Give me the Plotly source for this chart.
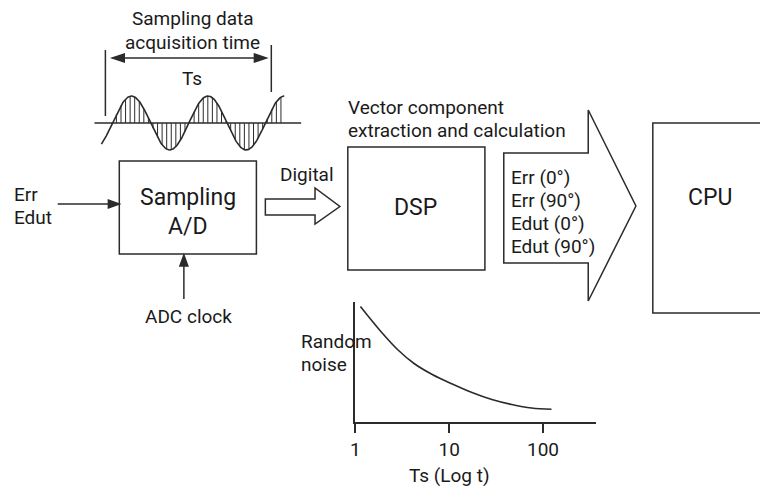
import numpy as np
import plotly.graph_objects as go

W, H = 768, 488
OFF = 8  # page offset of the figure inside the browser body

# ---------------- text content ----------------
title_lines = ["Sampling data", "acquisition time"]
ts_label = "Ts"
input_labels = ["Err", "Edut"]
adc_label = "ADC clock"
ad_labels = ["Sampling", "A/D"]
digital_label = "Digital"
dsp_label = "DSP"
vector_lines = ["Vector component", "extraction and calculation"]
output_labels = ["Err (0°)", "Err (90°)", "Edut (0°)", "Edut (90°)"]
cpu_label = "CPU"
noise_labels = ["Random", "noise"]
noise_xtitle = "Ts (Log t)"

# ---------------- inset data: random noise vs Ts ----------------
noise_t = [1.135, 1.875, 2.82, 4.23, 6.61, 10.8, 17.5, 28.5, 46.4, 75.5, 123]
noise_level = [115, 90, 72, 58, 47, 37.5, 29, 22, 17, 13.5, 12.2]
tick_vals = [1, 10, 100]
tick_text = ["1", "10", "100"]

# ---------------- schematic sampled waveform ----------------
wave_period = 77
wave_amp = 27

LINE = "#2b2b2b"
TXT = "#1a1a1a"
FONT = "Roboto"
SMALL = 19
BIG = 23

fig = go.Figure()

# sine wave (schematic, page pixel coordinates)
base_y = 123
zero_x = 108
wx = np.linspace(97, 281, 300)
wy = base_y - wave_amp * np.sin(2 * np.pi * (wx - zero_x) / wave_period)
fig.add_trace(go.Scatter(x=wx, y=wy, mode="lines", line=dict(color=LINE, width=1.6),
                         hoverinfo="skip", showlegend=False))

# hatching
hx, hy = [], []
for xv in np.arange(107.5, 279, 4.6):
    yv = base_y - wave_amp * np.sin(2 * np.pi * (xv - zero_x) / wave_period)
    hx += [xv, xv, None]
    hy += [base_y, yv, None]
fig.add_trace(go.Scatter(x=hx, y=hy, mode="lines", line=dict(color=LINE, width=1),
                         hoverinfo="skip", showlegend=False))

# inset curve
fig.add_trace(go.Scatter(x=noise_t, y=noise_level, mode="lines", xaxis="x2", yaxis="y2",
                         line=dict(color=LINE, width=1.6, shape="spline", smoothing=1.0),
                         hoverinfo="skip", showlegend=False))

shapes = []


def line(x0, y0, x1, y1, w=1.5):
    shapes.append(dict(type="line", x0=x0, y0=y0, x1=x1, y1=y1, xref="x", yref="y",
                       line=dict(color=LINE, width=w)))


def rect(x0, y0, x1, y1):
    shapes.append(dict(type="rect", x0=x0, y0=y0, x1=x1, y1=y1, xref="x", yref="y",
                       line=dict(color=LINE, width=1.5), fillcolor="rgba(0,0,0,0)"))


def path(pts, fill=None):
    d = "M " + " L ".join(f"{a},{b}" for a, b in pts) + " Z"
    shapes.append(dict(type="path", path=d, xref="x", yref="y",
                       line=dict(color=LINE, width=1.5),
                       fillcolor=fill if fill else "rgba(0,0,0,0)"))


def head(tx, ty, dx, dy, L=12, hw=4):
    bx, by = tx - dx * L, ty - dy * L
    px, py = -dy * hw, dx * hw
    path([(tx, ty), (bx + px, by + py), (bx - px, by - py)], fill=LINE)


# Ts bracket
line(101, 50, 101, 116)
line(268, 45, 268, 92)
line(112, 58, 259, 58)
head(108, 58, -1, 0)
head(263, 58, 1, 0)
# waveform baseline
line(90, base_y, 298, base_y, 1.4)

# Sampling A/D
rect(115, 161, 253, 254)
line(53, 204, 106, 204)
head(115, 204, 1, 0, L=11, hw=4)
line(180, 299, 180, 264)
head(180, 255, 0, -1, L=11, hw=4)

# Digital hollow arrow
path([(262, 199), (312, 199), (312, 188), (337, 206.5), (312, 224), (312, 215), (262, 215)])

# DSP
rect(345, 147, 483, 270)

# big output arrow
path([(502, 153), (587, 153), (587, 110), (635, 206), (587, 301), (587, 263), (502, 263)])

# CPU
rect(652, 123, 780, 313)

annotations = []


def text(s, x, y, size=SMALL, xanchor="center"):
    annotations.append(dict(text=s, x=x, y=y, xref="x", yref="y", showarrow=False,
                            xanchor=xanchor, yanchor="middle", borderpad=0,
                            font=dict(family=FONT, size=size, color=TXT)))


text(title_lines[0], 189, 18.5)
text(title_lines[1], 189, 42)
text(ts_label, 188, 78)
text(input_labels[0], 8, 194, xanchor="left")
text(input_labels[1], 8, 217, xanchor="left")
text(ad_labels[0], 184, 197, size=BIG)
text(ad_labels[1], 184, 226, size=BIG)
text(adc_label, 185, 316)
text(digital_label, 304, 174)
text(vector_lines[0], 344, 107, xanchor="left")
text(vector_lines[1], 344, 130, xanchor="left")
text(dsp_label, 413, 207, size=BIG)
for i, s in enumerate(output_labels):
    text(s, 508, 177 + i * 23.3, xanchor="left")
text(cpu_label, 710, 197, size=BIG)
text(noise_labels[0], 297, 341, xanchor="left")
text(noise_labels[1], 297, 364, xanchor="left")
text(noise_xtitle, 447, 475)

# inset axes placed in page pixels: x 352.5..595, y 302..421.5
ix0, ix1, iy0, iy1 = 352.5, 595, 302, 421.5
decades = (ix1 - ix0) / 94.5

fig.update_layout(
    width=W, height=H, autosize=False,
    margin=dict(l=0, r=0, t=0, b=0),
    paper_bgcolor="white", plot_bgcolor="rgba(0,0,0,0)",
    shapes=shapes, annotations=annotations,
    xaxis=dict(range=[OFF, W + OFF], visible=False, domain=[0, 1], fixedrange=True),
    yaxis=dict(range=[H + OFF, OFF], visible=False, domain=[0, 1], fixedrange=True),
    xaxis2=dict(type="log", range=[0, decades],
                domain=[(ix0 - OFF) / W, (ix1 - OFF) / W],
                anchor="y2", showline=True, linecolor=LINE, linewidth=1.5,
                ticks="outside", ticklen=10, tickwidth=1.5, tickcolor=LINE,
                tickvals=tick_vals, ticktext=tick_text, showgrid=False, zeroline=False,
                tickfont=dict(family=FONT, size=SMALL, color=TXT)),
    yaxis2=dict(range=[0, iy1 - iy0],
                domain=[(H - (iy1 - OFF)) / H, (H - (iy0 - OFF)) / H], anchor="x2",
                showline=True, linecolor=LINE, linewidth=1.5, ticks="",
                showticklabels=False, showgrid=False, zeroline=False),
    showlegend=False,
)

fig.write_html("out.html")
